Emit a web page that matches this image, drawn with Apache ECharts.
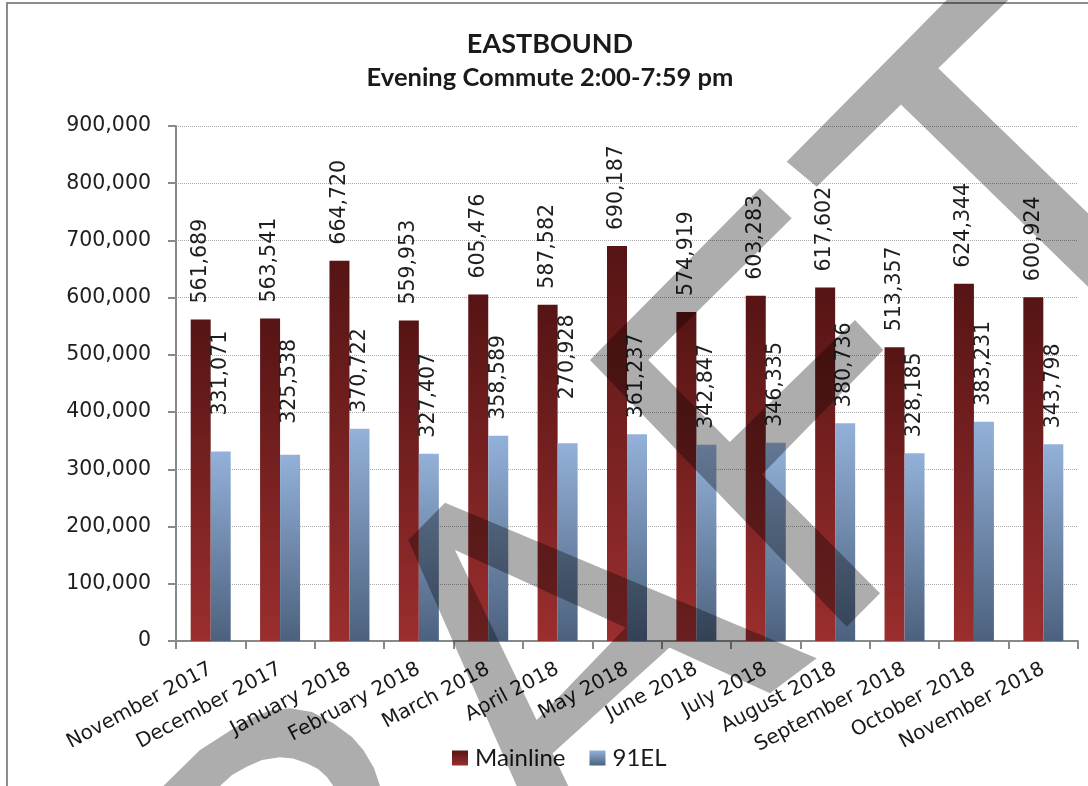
<!DOCTYPE html>
<html>
<head>
<meta charset="utf-8">
<script src="https://cdn.jsdelivr.net/npm/echarts@6/dist/echarts.min.js"></script>
<style>
  html, body { margin: 0; padding: 0; background: #ffffff; }
  #chart { width: 1088px; height: 786px; }
</style>
</head>
<body>
<div id="chart"></div>
<script>
// ---- Data ----
const categories = ['November 2017', 'December 2017', 'January 2018', 'February 2018', 'March 2018',
  'April 2018', 'May 2018', 'June 2018', 'July 2018', 'August 2018', 'September 2018',
  'October 2018', 'November 2018'];
const mainline = [561689, 563541, 664720, 559953, 605476, 587582, 690187, 574919, 603283, 617602, 513357, 624344, 600924];
// 91EL bar heights (April's bar stands at ~345,700 while its printed label reads 270,928)
const el91 = [331071, 325538, 370722, 327407, 358589, 345700, 361237, 342847, 346335, 380736, 328185, 383231, 343798];
const el91Labels = ['331,071', '325,538', '370,722', '327,407', '358,589', '270,928', '361,237', '342,847',
  '346,335', '380,736', '328,185', '383,231', '343,798'];
const yTicks = { min: 0, max: 900000, interval: 100000 };

// manual label nudges seen in the reference (index: [dx, extra distance])
const el91LabelNudge = { 0: [6, 14], 1: [15, 0], 5: [12, 16] };

const fmt = v => Number(v).toLocaleString('en-US');

// ---- DRAFT watermark (decoration) ----
const watermarkPolys = [
  // T
  [[786.7,161.7],[966.5,-20],[1028.8,-20],[816.7,186.7]],
  [[920,50.6],[1110,234.5],[1110,308.1],[885,88.9]],
  // F
  [[590,360],[846.7,626.7],[880,593.3],[648.3,360]],
  [[590,360],[760,188.3],[791.7,218.3],[648.3,360]],
  [[700,470.9],[855,320],[883.3,350],[733.3,504.1]],
  // A
  [[408.3,540],[436.5,511.4],[575,800],[522.9,800]],
  [[416,532.2],[445,502.7],[816.7,658.3],[770,693.3]],
  [[520,737.3],[650,602.3],[690,628.9],[535,769.3]],
  // R bowl
  [[150,800],[163.3,786],[200,750],[246.7,720],[270,710.5],[290,708.3],[312,712],[333.3,723.3],[352,737],[363.3,750],[374,768],[380,786],[385,800],
   [338,800],[333.3,786],[326.7,776.7],[318,769],[306.7,763.3],[293,758.5],[280,757.3],[262,760],[246.7,766.7],[232,775],[220,786],[205,800]]
];

function orient(p) {
  let a = 0;
  for (let i = 0; i < p.length; i++) {
    const q = p[(i + 1) % p.length];
    a += p[i][0] * q[1] - q[0] * p[i][1];
  }
  return a < 0 ? p.slice().reverse() : p;
}

let watermarkEls = [];
const WM_FILL = 'rgba(0,0,0,0.32)';
if (echarts.graphic && echarts.graphic.extendShape && echarts.graphic.registerShape) {
  const WM = echarts.graphic.extendShape({
    type: 'draftMark',
    shape: { polys: [] },
    buildPath: function (ctx, shape) {
      shape.polys.forEach(function (p0) {
        const p = orient(p0);
        ctx.moveTo(p[0][0], p[0][1]);
        for (let i = 1; i < p.length; i++) ctx.lineTo(p[i][0], p[i][1]);
        ctx.closePath();
      });
    }
  });
  echarts.graphic.registerShape('draftMark', WM);
  watermarkEls = [{ type: 'draftMark', z: 100, silent: true, shape: { polys: watermarkPolys }, style: { fill: WM_FILL } }];
} else {
  watermarkEls = watermarkPolys.map(p => ({ type: 'polygon', z: 100, silent: true, shape: { points: p }, style: { fill: WM_FILL } }));
}

const chart = echarts.init(document.getElementById('chart'), null, { renderer: 'canvas' });

const mainGrad = new echarts.graphic.LinearGradient(0, 0, 0, 1, [
  { offset: 0, color: '#561414' }, { offset: 1, color: '#9b2e2e' }]);
const elGrad = new echarts.graphic.LinearGradient(0, 0, 0, 1, [
  { offset: 0, color: '#93b1d9' }, { offset: 1, color: '#4c617e' }]);

const labelBase = {
  show: true, position: 'top', rotate: 90, align: 'left', verticalAlign: 'middle',
  distance: 16, fontFamily: 'DejaVu Sans', fontSize: 20.5, color: '#1e1e1e'
};

const elData = el91.map((v, i) => {
  const item = { value: v };
  if (el91LabelNudge[i]) {
    item.label = { distance: 16 + el91LabelNudge[i][1], offset: [el91LabelNudge[i][0], 0] };
  }
  return item;
});

chart.setOption({
  animation: false,
  backgroundColor: '#ffffff',
  title: [
    { text: 'EASTBOUND', left: 550, top: 31, textAlign: 'center', padding: 0,
      textStyle: { fontFamily: 'Lato', fontWeight: 'bold', fontSize: 27, color: '#1a1a1a' } },
    { text: 'Evening Commute 2:00-7:59 pm', left: 550, top: 65, textAlign: 'center', padding: 0,
      textStyle: { fontFamily: 'Lato', fontWeight: 'bold', fontSize: 25.5, color: '#1a1a1a' } }
  ],
  legend: {
    left: 452, top: 746, itemWidth: 16, itemHeight: 15, itemGap: 24, padding: 0,
    icon: 'rect',
    textStyle: { fontFamily: 'Lato', fontSize: 24, color: '#1a1a1a', padding: [0, 0, 0, 2] },
    data: ['Mainline', '91EL']
  },
  grid: { left: 176, right: 10, top: 126, bottom: 145, containLabel: false },
  xAxis: {
    type: 'category',
    data: categories,
    axisLine: { show: true, lineStyle: { color: '#898989', width: 2 } },
    axisTick: { show: true, length: 8, alignWithLabel: false, lineStyle: { color: '#898989', width: 2 } },
    axisLabel: { interval: 0, rotate: 28, margin: 27, fontFamily: 'DejaVu Sans', fontSize: 20, color: '#1a1a1a' },
    splitLine: { show: false }
  },
  yAxis: {
    type: 'value',
    min: yTicks.min, max: yTicks.max, interval: yTicks.interval,
    axisLine: { show: true, lineStyle: { color: '#898989', width: 2 } },
    axisTick: { show: true, length: 8, lineStyle: { color: '#898989', width: 2 } },
    axisLabel: { margin: 25, fontFamily: 'DejaVu Sans', fontSize: 20.5, color: '#1e1e1e', formatter: v => fmt(v) },
    splitLine: { show: true, lineStyle: { color: '#a9a9a9', width: 1, type: [1, 1] } }
  },
  series: [
    {
      name: 'Mainline', type: 'bar', data: mainline, barWidth: 20, barGap: '0%',
      itemStyle: { color: mainGrad },
      label: Object.assign({}, labelBase, { formatter: p => fmt(p.value) })
    },
    {
      name: '91EL', type: 'bar', data: elData, barWidth: 20, barGap: '0%',
      itemStyle: { color: elGrad },
      label: Object.assign({}, labelBase, { formatter: p => el91Labels[p.dataIndex] })
    }
  ],
  graphic: [
    { type: 'rect', z: 99, silent: true, shape: { x: 7, y: 3, width: 1100, height: 800 },
      style: { fill: 'none', stroke: '#8c8c8c', lineWidth: 2 } }
  ].concat(watermarkEls)
});
</script>
</body>
</html>
